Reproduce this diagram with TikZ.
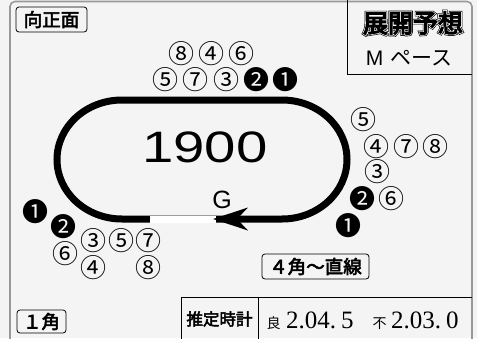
\documentclass[tikz,border=0pt]{standalone}
\usepackage{fontspec}
\usepackage{graphicx}
\setmainfont{Liberation Sans}
\newfontfamily\jp{Noto Sans CJK JP}
\newfontfamily\jpb[FakeBold=3]{Noto Sans CJK JP}
\newfontfamily\jph[FakeBold=5]{Noto Sans CJK JP}
\newfontfamily\jpo[FakeBold=15]{Noto Sans CJK JP}
\newfontfamily\jpw[FakeBold=10]{Noto Sans CJK JP}
\newfontfamily\serifd{Liberation Serif}
\definecolor{bgc}{HTML}{F4F4F4}
\definecolor{framec}{HTML}{999999}
\tikzset{
  cn/.style={inner sep=0pt, font=\jp\fontsize{26}{26}\selectfont},
  lbox/.style={draw=black, line width=0.8pt, rounded corners=3pt, inner sep=0pt, font=\jpb\fontsize{18.5}{18.5}\selectfont},
  track/.style={line width=7pt, draw=black},
}
\begin{document}
\begin{tikzpicture}[x=1pt, y=-1pt]
\useasboundingbox (0,0) rectangle (477,338);
\clip (0,0) rectangle (477,338);
\fill[bgc] (0,0) rectangle (477,338);
% frame
\draw[framec, line width=1.6pt, rounded corners=5pt] (10,345) -- (10,1.5) -- (472,1.5) -- (472,345);
% heading box
\draw[black, line width=0.8pt] (347,0) -- (347,74) -- (472,74);
\node[inner sep=0pt, font=\fontsize{25}{25}\selectfont] (head) at (413,23)
  {\rlap{\jpo 展開予想}\rlap{\jpw\color{white}展開予想}{\jph 展開予想}};
\node[inner sep=0pt, font=\fontsize{21}{21}\selectfont] (pace) at (409,58) {M\hspace{7pt}{\jp ペース}};
% labels
\node[lbox, minimum width=71pt, minimum height=25pt] (muko) at (51.5,19.5) {向正面};
\node[lbox, minimum width=49pt, minimum height=23pt] (c1) at (41.5,321.5) {１角};
\node[lbox, minimum width=107pt, minimum height=25pt] (c4) at (315.5,266.5) {４角〜直線};
% track
\draw[track] (122,100) arc[start angle=270, end angle=90, x radius=65, y radius=59.5]
  -- (282,219) arc[start angle=90, end angle=-90, x radius=65, y radius=59.5] -- cycle;
\draw[line width=7pt, white] (150,219) -- (216,219);
\fill[black] (213,219) -- (248,207.5) -- (237,219) -- (248,230.5) -- cycle;
\node[inner sep=0pt, font=\fontsize{44}{44}\selectfont] (dist) at (205,147) {\scalebox{1.28}[1]{1900}};
\node[inner sep=0pt, font=\fontsize{25}{25}\selectfont] (goal) at (222,200) {G};
% top group
\node[cn] (t8) at (181.7,53.3) {⑧};
\node[cn] (t4) at (211.7,53.3) {④};
\node[cn] (t6) at (241.7,53.3) {⑥};
\node[cn] (t5) at (165,80) {⑤};
\node[cn] (t7) at (195,80) {⑦};
\node[cn] (t3) at (226,80) {③};
\node[cn] (t2) at (256.7,80) {❷};
\node[cn] (t1) at (285,80) {❶};
% right group
\node[cn] (r5) at (363.3,119.3) {⑤};
\node[cn] (r4) at (376.7,146.7) {④};
\node[cn] (r7) at (406,146.7) {⑦};
\node[cn] (r8) at (435,146.7) {⑧};
\node[cn] (r3) at (377.7,171.7) {③};
\node[cn] (r2) at (362.3,198.3) {❷};
\node[cn] (r6) at (391.7,198.3) {⑥};
\node[cn] (r1) at (348.3,226) {❶};
% left group
\node[cn] (l1) at (35,211.7) {❶};
\node[cn] (l2) at (63.3,226.7) {❷};
\node[cn] (l3) at (93.3,241) {③};
\node[cn] (l5) at (121.7,241) {⑤};
\node[cn] (l7) at (148.3,241) {⑦};
\node[cn] (l6) at (65,254) {⑥};
\node[cn] (l4) at (93.3,267.3) {④};
\node[cn] (l8) at (148.3,267.3) {⑧};
% table
\draw[black, line width=0.8pt] (181,345) -- (181,297.5) -- (472,297.5);
\draw[black, line width=0.8pt] (258,297.5) -- (258,345);
\node[inner sep=0pt, font=\jpb\fontsize{16.5}{16.5}\selectfont] (est) at (219.5,319) {推定時計};
\node[inner sep=0pt, anchor=base west, font=\jp\fontsize{14}{14}\selectfont] (ry) at (266.5,328.5) {良};
\node[inner sep=0pt, anchor=base west, font=\serifd\fontsize{25}{25}\selectfont] (ryt) at (286,328.5) {2.04.\hspace{5pt}5};
\node[inner sep=0pt, anchor=base west, font=\jp\fontsize{14}{14}\selectfont] (fu) at (372.5,328.5) {不};
\node[inner sep=0pt, anchor=base west, font=\serifd\fontsize{25}{25}\selectfont] (fut) at (391,328.5) {2.03.\hspace{5pt}0};
\end{tikzpicture}
\end{document}
